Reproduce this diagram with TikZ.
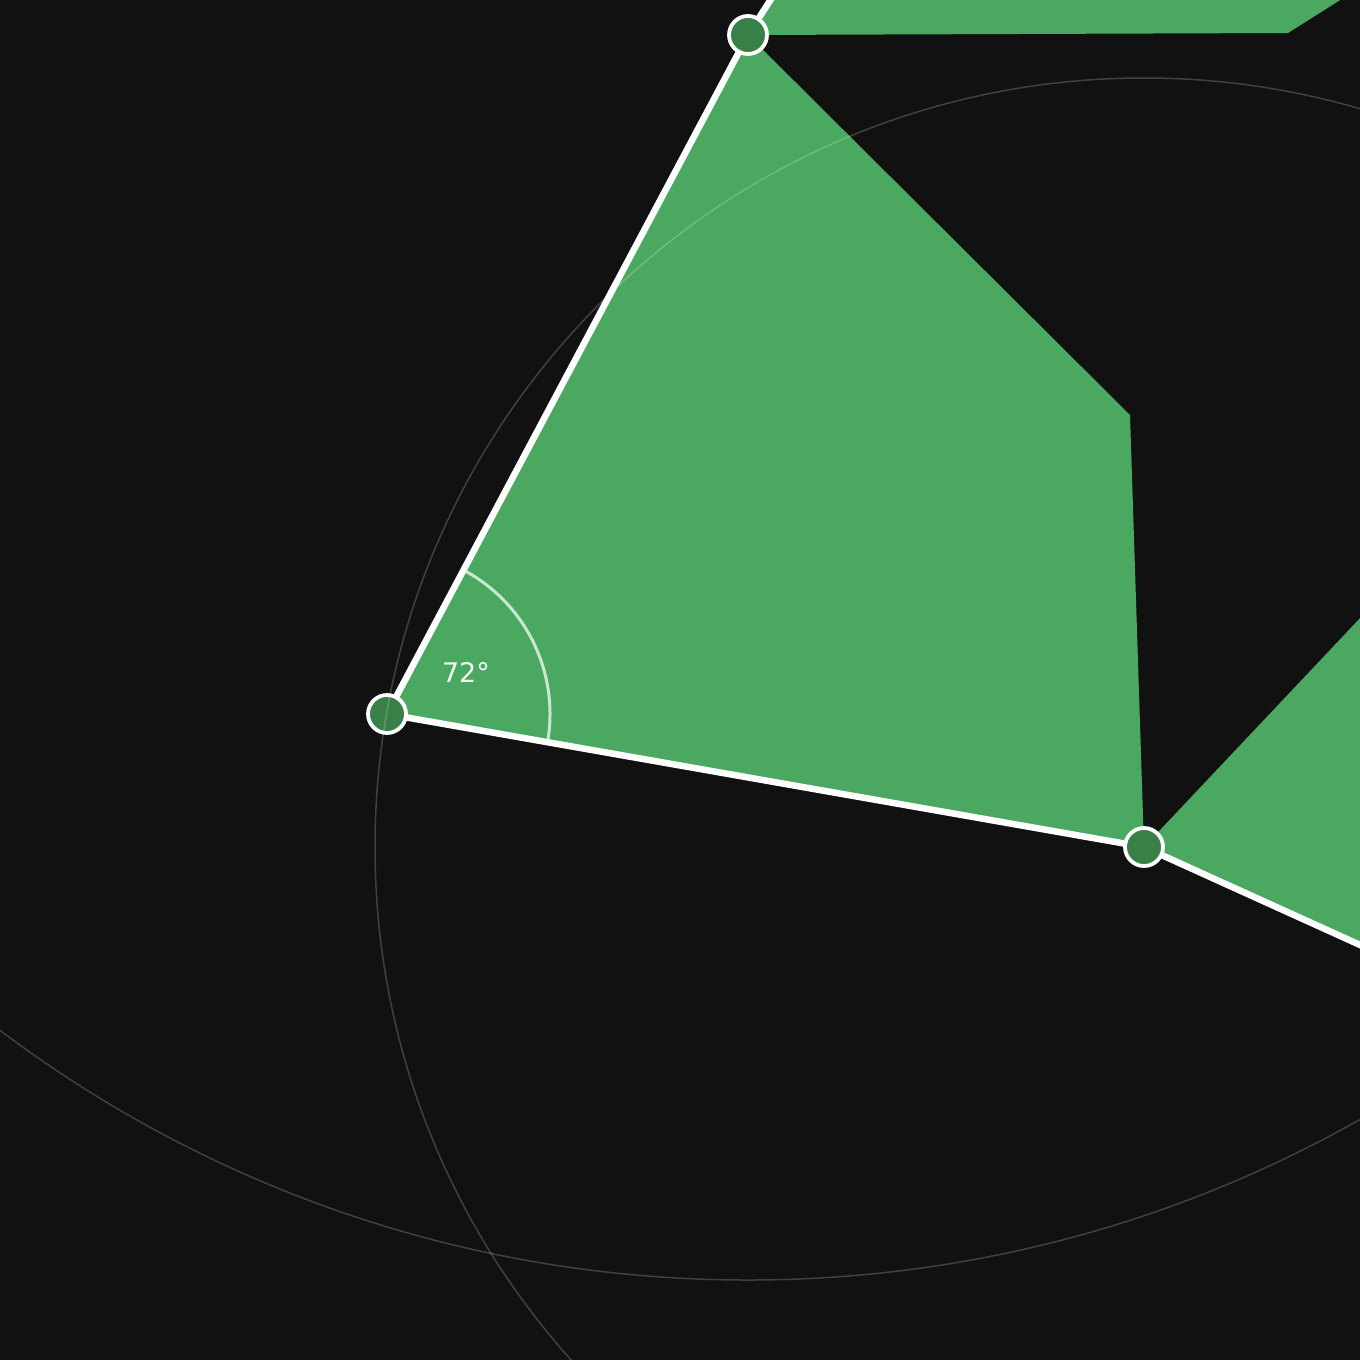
\documentclass[tikz,border=0pt]{standalone}
\usepackage{fontspec}
\setmainfont{DejaVu Sans}
\begin{document}
\begin{tikzpicture}[x=1pt,y=-1pt,
  face/.style={fill=facegreen,draw=none},
  edge/.style={draw=white,line width=6.5pt},
  vert/.style={circle,fill=vertgreen,draw=white,line width=3.8pt,minimum size=38pt,inner sep=0pt},
  guide/.style={draw=white,draw opacity=0.2,line width=1.5pt},
  anglearc/.style={draw=arcwhite,line width=3pt},
  anglelabel/.style={text=labelwhite,font=\fontsize{27}{31}\selectfont,inner sep=0pt}]
\definecolor{bg}{HTML}{111111}
\definecolor{facegreen}{HTML}{4BA861}
\definecolor{vertgreen}{HTML}{387F48}
\definecolor{arcwhite}{HTML}{C9E8CF}
\definecolor{labelwhite}{HTML}{F2F8F3}
\fill[bg] (0,0) rectangle (1360,1360);
\useasboundingbox (0,0) rectangle (1360,1360);
\clip (0,0) rectangle (1360,1360);
% points
\coordinate (pA) at (387,714);
\coordinate (pB) at (748,35);
\coordinate (pC) at (1144,847);
\coordinate (pT) at (780,-15);
\coordinate (pE) at (1380,954);
\coordinate (q1) at (1130,415);
\coordinate (q2) at (1364,-15);
\coordinate (q3) at (1288,33);
\coordinate (q4) at (1380,597);
% faces
\fill[facegreen] (pA) -- (pB) -- (q1) -- (pC) -- cycle;
\fill[facegreen] (pB) -- (pT) -- (q2) -- (q3) -- cycle;
\fill[facegreen] (pC) -- (q4) -- (pE) -- cycle;
% angle arc
\draw[anglearc] (pA) ++(9.97:163) arc[start angle=9.97, end angle=-62.0, radius=163];
\node[anglelabel] (lab) at (466,672) {72°};
% edges
\draw[edge] (pT) -- (pB) -- (pA) -- (pC) -- (pE);
% vertices
\node[vert] (A) at (pA) {};
\node[vert] (B) at (pB) {};
\node[vert] (C) at (pC) {};
% guide circles
\draw[guide] (pC) circle[radius=769];
\draw[guide] (pB) circle[radius=1245];
\end{tikzpicture}
\end{document}
